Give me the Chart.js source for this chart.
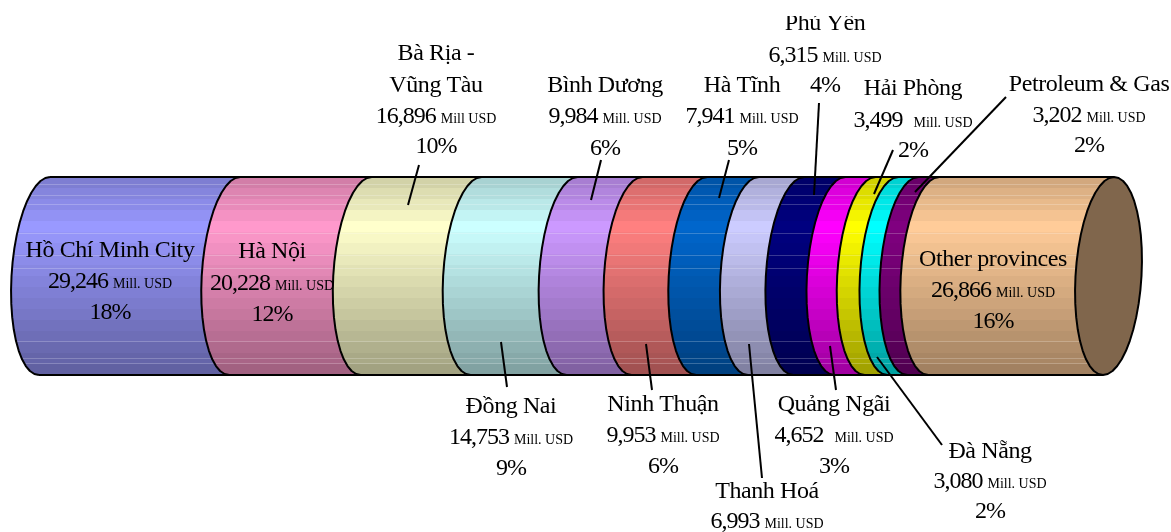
<!DOCTYPE html>
<html>
<head>
<meta charset="utf-8">
<title>Registered capital by province</title>
<script src="https://cdn.jsdelivr.net/npm/chart.js@4"></script>
<style>
    html, body { margin: 0; padding: 0; background: #fff; overflow: hidden; }
    canvas { display: block; }
</style>
</head>
<body>
<canvas id="cylinderChart" width="1171" height="532"></canvas>
<script>
const categories = ['Hồ Chí Minh City', 'Hà Nội', 'Bà Rịa -\nVũng Tàu', 'Đồng Nai', 'Bình Dương', 'Ninh Thuận', 'Hà Tĩnh', 'Thanh Hoá', 'Phú Yên', 'Quảng Ngãi', 'Hải Phòng', 'Đà Nẵng', 'Petroleum & Gas', 'Other provinces'];
const values = [29246, 20228, 16896, 14753, 9984, 9953, 7941, 6993, 6315, 4652, 3499, 3080, 3202, 26866];
const percents = ['18%', '12%', '10%', '9%', '6%', '6%', '5%', '4%', '4%', '3%', '2%', '2%', '2%', '16%'];
const units = ['Mill. USD', 'Mill. USD', 'Mill USD', 'Mill. USD', 'Mill. USD', 'Mill. USD', 'Mill. USD', 'Mill. USD', 'Mill. USD', 'Mill. USD', 'Mill. USD', 'Mill. USD', 'Mill. USD', 'Mill. USD'];
const colors = ['#9999FF', '#FF99CC', '#FFFFCC', '#CCFFFF', '#CC99FF', '#FF8080', '#0066CC', '#CCCCFF', '#000080', '#FF00FF', '#FFFF00', '#00FFFF', '#800080', '#FFCC99'];
const capColor = '#80664C';

// where the text goes: centre x, first baseline, number baseline, percent baseline (null = cut off by the page)
const labelSpots = [
    { x: 110, name: 257, num: 288, pct: 319, gap: 5 },
    { x: 272, name: 258, num: 290, pct: 321, gap: 5 },
    { x: 436, name: 60, num: 123, pct: 153, gap: 5 },
    { x: 511, name: 413, num: 444, pct: 475, gap: 5 },
    { x: 605, name: 92, num: 123, pct: 155, gap: 5 },
    { x: 663, name: 411, num: 442, pct: 473, gap: 5 },
    { x: 742, name: 92, num: 123, pct: 155, gap: 5 },
    { x: 767, name: 498, num: 528, pct: null, gap: 5 },
    { x: 825, name: 30, num: 62, pct: 92, gap: 5 },
    { x: 834, name: 411, num: 442, pct: 473, gap: 11 },
    { x: 913, name: 95, num: 127, pct: 157, gap: 11 },
    { x: 990, name: 458, num: 488, pct: 518, gap: 5 },
    { x: 1089, name: 91, num: 122, pct: 152, gap: 5 },
    { x: 993, name: 266, num: 297, pct: 328, gap: 5 }
];

// leader lines from the labels into their segment
const leaders = [
    [419, 165, 408, 205], [601, 160, 591, 200], [729, 160, 719, 198], [819, 103, 814, 195],
    [893, 150, 874, 194], [1006, 97, 915, 192], [501, 342, 507, 387], [646, 344, 652, 390],
    [749, 344, 762, 478], [830, 346, 836, 390], [877, 357, 942, 445]
];

const stripes = [184, 195, 204, 233, 255, 268, 341, 358, 363];
const ELLIPSE_RX = 33;
const ELLIPSE_SKEW = 5.5;
const SERIF = '"Liberation Serif", "Times New Roman", serif';

function shade(hex, factor) {
    const n = parseInt(hex.slice(1), 16);
    const r = Math.round(((n >> 16) & 255) * factor);
    const g = Math.round(((n >> 8) & 255) * factor);
    const b = Math.round((n & 255) * factor);
    return `rgb(${r},${g},${b})`;
}

function bandedGradient(ctx, hex, top, bottom) {
    const gradient = ctx.createLinearGradient(0, top, 0, bottom);
    const bands = 18;
    for (let i = 0; i < bands; i++) {
        const t = (i + 0.5) / bands;
        const factor = t < 0.25 ? 0.8 + 0.2 * t / 0.25 : 1 - 0.38 * (t - 0.25) / 0.75;
        gradient.addColorStop(i / bands, shade(hex, factor));
        gradient.addColorStop((i + 1) / bands, shade(hex, factor));
    }
    return gradient;
}

// the tilted end ellipse, walked from angle `from` over `sweep`
function ellipsePoints(x, top, bottom, from, sweep, steps) {
    const points = [];
    const mid = (top + bottom) / 2;
    const h = (bottom - top) / 2;
    for (let i = 0; i <= steps; i++) {
        const a = from + sweep * i / steps;
        points.push([x - ELLIPSE_SKEW + ELLIPSE_RX * Math.cos(a) - ELLIPSE_SKEW * Math.sin(a), mid + h * Math.sin(a)]);
    }
    return points;
}

// left half only, from the top edge round to the bottom edge
function curvePoints(x, top, bottom) {
    return ellipsePoints(x, top, bottom, -Math.PI / 2, -Math.PI, 22);
}

function tracePoints(ctx, points, move) {
    points.forEach((p, i) => {
        if (i === 0 && move) ctx.moveTo(p[0], p[1]);
        else ctx.lineTo(p[0], p[1]);
    });
}

const cylinderPlugin = {
    id: 'cylinder',
    // every stack segment is painted as a curved band instead of a flat rectangle
    beforeDatasetDraw(chart, args) {
        const ctx = chart.ctx;
        const bar = args.meta.data[0];
        const top = bar.y - bar.height / 2;
        const bottom = bar.y + bar.height / 2;
        ctx.save();
        ctx.beginPath();
        tracePoints(ctx, curvePoints(bar.base, top, bottom), true);
        tracePoints(ctx, curvePoints(bar.x, top, bottom).reverse(), false);
        ctx.closePath();
        ctx.fillStyle = bandedGradient(ctx, colors[args.index], top, bottom);
        ctx.fill();
        ctx.clip();
        ctx.fillStyle = 'rgba(255,255,255,0.22)';
        stripes.forEach(y => ctx.fillRect(0, y, chart.width, 1));
        ctx.restore();
        return false;
    },
    afterDatasetsDraw(chart) {
        const ctx = chart.ctx;
        const metas = chart.getSortedVisibleDatasetMetas();
        const first = metas[0].data[0];
        const last = metas[metas.length - 1].data[0];
        const top = first.y - first.height / 2;
        const bottom = first.y + first.height / 2;

        ctx.save();
        ctx.strokeStyle = '#000';
        ctx.lineWidth = 2;
        ctx.lineJoin = 'round';

        metas.forEach(meta => {
            ctx.beginPath();
            tracePoints(ctx, curvePoints(meta.data[0].base, top, bottom), true);
            ctx.stroke();
        });

        ctx.beginPath();
        ctx.moveTo(first.base, top);
        ctx.lineTo(last.x, top);
        ctx.moveTo(first.base - 2 * ELLIPSE_SKEW, bottom);
        ctx.lineTo(last.x - 2 * ELLIPSE_SKEW, bottom);
        ctx.stroke();

        ctx.beginPath();
        tracePoints(ctx, ellipsePoints(last.x, top, bottom, 0, 2 * Math.PI, 44), true);
        ctx.closePath();
        ctx.fillStyle = capColor;
        ctx.fill();
        ctx.stroke();

        leaders.forEach(l => {
            ctx.beginPath();
            ctx.moveTo(l[0], l[1]);
            ctx.lineTo(l[2], l[3]);
            ctx.stroke();
        });
        ctx.restore();

        drawLabels(ctx);
    }
};

function setFont(ctx, size, spacing) {
    ctx.font = `${size}px ${SERIF}`;
    ctx.letterSpacing = spacing;
}

function drawLabels(ctx) {
    ctx.save();
    ctx.fillStyle = '#000';
    ctx.textBaseline = 'alphabetic';
    categories.forEach((name, i) => {
        const spot = labelSpots[i];
        ctx.save();
        // the top row of the original is clipped by its frame
        ctx.beginPath();
        ctx.rect(0, 16, 1171, 516);
        ctx.clip();
        ctx.textAlign = 'center';
        setFont(ctx, 24, '-0.4px');
        name.split('\n').forEach((line, n) => ctx.fillText(line, spot.x, spot.name + n * 32));
        ctx.restore();

        const numText = values[i].toLocaleString('en-US');
        ctx.textAlign = 'left';
        setFont(ctx, 24, '-1px');
        const numWidth = ctx.measureText(numText).width;
        setFont(ctx, 14, '0px');
        const unitWidth = ctx.measureText(units[i]).width;
        const startX = spot.x - (numWidth + spot.gap + unitWidth) / 2;
        setFont(ctx, 24, '-1px');
        ctx.fillText(numText, startX, spot.num);
        setFont(ctx, 14, '0px');
        ctx.fillText(units[i], startX + numWidth + spot.gap, spot.num);

        if (spot.pct !== null) {
            ctx.textAlign = 'center';
            setFont(ctx, 24, '-1px');
            ctx.fillText(percents[i], spot.x, spot.pct);
        }
    });
    ctx.restore();
}

new Chart(document.getElementById('cylinderChart').getContext('2d'), {
    type: 'bar',
    data: {
        labels: ['Registered capital'],
        datasets: categories.map((name, i) => ({
            label: name,
            data: [values[i]],
            backgroundColor: colors[i],
            barPercentage: 1,
            categoryPercentage: 1
        }))
    },
    options: {
        indexAxis: 'y',
        responsive: false,
        animation: false,
        layout: { padding: { left: 50, right: 57, top: 177, bottom: 157 } },
        plugins: {
            legend: { display: false },
            tooltip: { enabled: false }
        },
        scales: {
            x: { stacked: true, display: false, min: 0, max: values.reduce((a, b) => a + b, 0) },
            y: { stacked: true, display: false }
        }
    },
    plugins: [cylinderPlugin]
});
</script>
</body>
</html>
